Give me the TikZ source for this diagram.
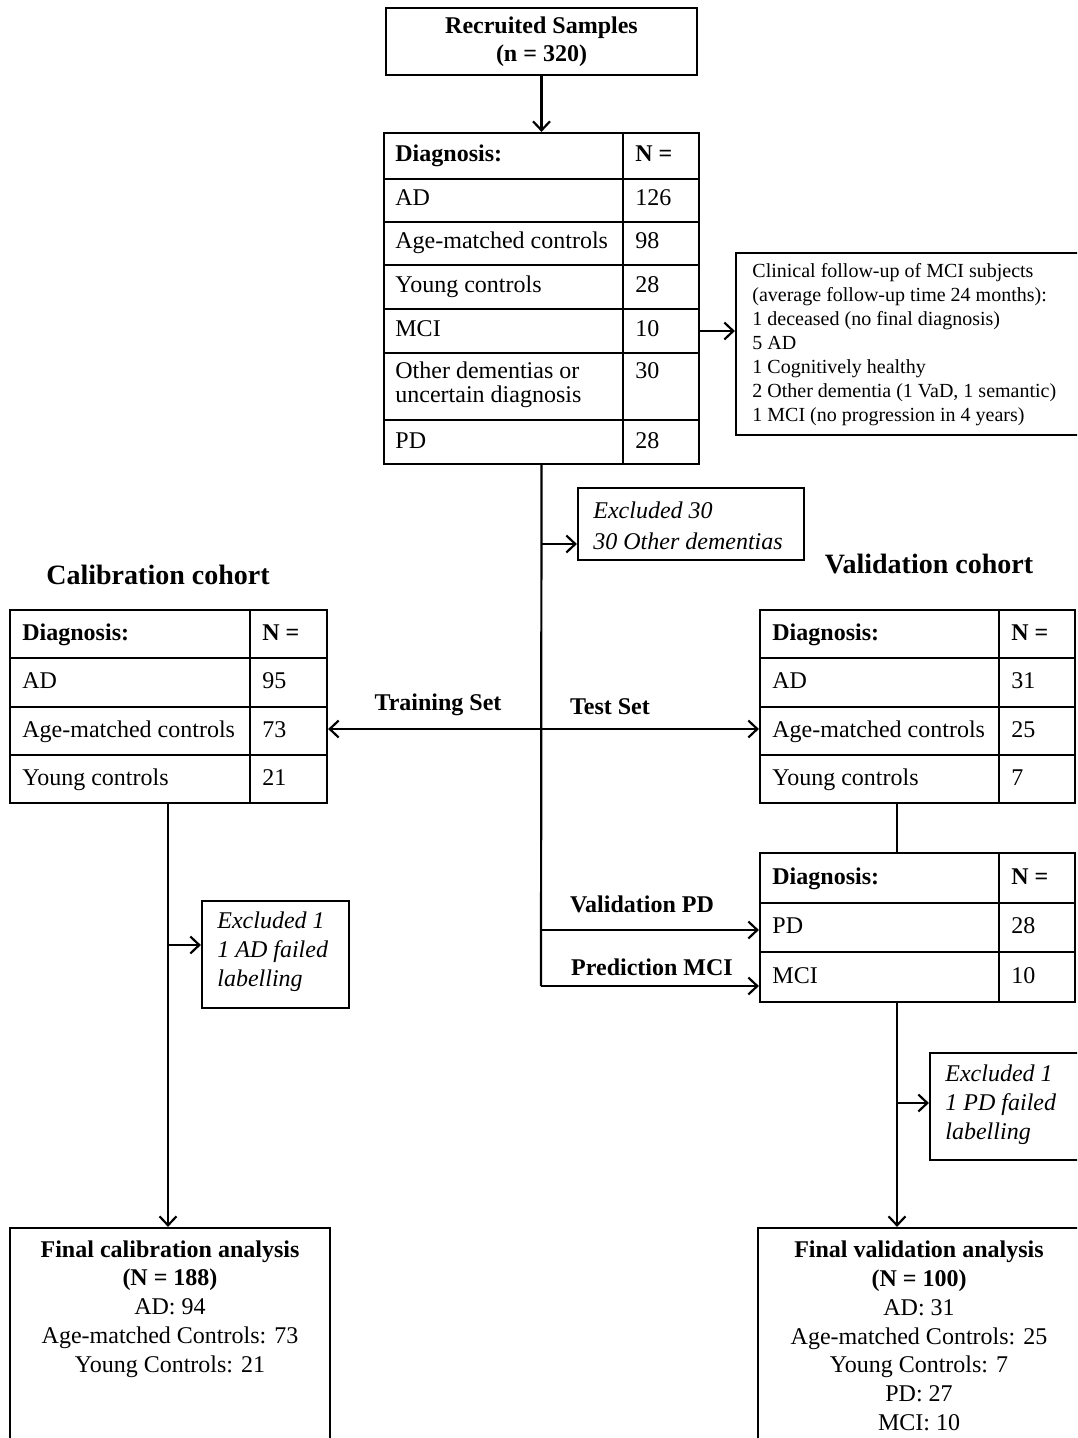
\documentclass[tikz,border=0pt]{standalone}
\usepackage{fontspec}
\setmainfont{Liberation Serif}
\usetikzlibrary{arrows.meta,fit}
\begin{document}
\begin{tikzpicture}[x=0.5pt,y=-0.5pt,
  box/.style={draw, line width=1.1pt, inner sep=0pt},
  ln/.style={line width=1.1pt},
  arr/.style={line width=1.1pt, -{Straight Barb[length=4.5pt,width=8.5pt,line width=1.1pt]}},
  cell/.style={anchor=west, inner sep=0pt, text height=8.5pt, text depth=2.5pt, font=\fontsize{12}{12}\selectfont},
  hcell/.style={cell, font=\fontsize{12}{12}\selectfont\bfseries},
  lbl/.style={inner sep=0pt, font=\fontsize{12}{14}\selectfont\bfseries},
  head/.style={inner sep=0pt, font=\fontsize{14}{16}\selectfont\bfseries},
  excl/.style={anchor=west, inner sep=0pt, align=left},
  fin/.style={inner sep=0pt, align=center, font=\fontsize{12}{14.4}\selectfont}]
\useasboundingbox (0,0) rectangle (1077,1438);
\clip (0,0) rectangle (1077,1438);

% Recruited samples
\node[box, fit={(386,8) (697,75)}] (rec) {};
\node[lbl, align=center] (rect) at (rec.center) {Recruited Samples\\(n = 320)};

% top table
\node[box, fit={(384,133) (699,464)}] (t1) {};
\draw[ln] (623,133) -- (623,464);
\foreach \yy in {179,222,265,309,353,420} \draw[ln] (384,\yy) -- (699,\yy);
\node[hcell] (t1a) at (395,156) {Diagnosis:};
\node[hcell] (t1b) at (635,156) {N =};
\node[cell] (t1c) at (395,200) {AD};
\node[cell] (t1d) at (635,200) {126};
\node[cell] (t1e) at (395,243) {Age-matched controls};
\node[cell] (t1f) at (635,243) {98};
\node[cell] (t1g) at (395,287) {Young controls};
\node[cell] (t1h) at (635,287) {28};
\node[cell] (t1i) at (395,331) {MCI};
\node[cell] (t1j) at (635,331) {10};
\node[anchor=west, inner sep=0pt, align=left, font=\fontsize{12}{12}\selectfont] (t1k) at (395,385) {Other dementias or\\uncertain diagnosis};
\node[cell] (t1l) at (635,373) {30};
\node[cell] (t1m) at (395,442) {PD};
\node[cell] (t1n) at (635,442) {28};

\draw[arr] (rec.south) -- (t1.north);

% MCI follow-up
\node[box, fit={(736,253) (1095,435)}] (fu) {};
\node[excl, font=\fontsize{10}{12}\selectfont] (fut) at (752,345) {Clinical follow-up of MCI subjects\\(average follow-up time 24 months):\\1 deceased (no final diagnosis)\\5 AD\\1 Cognitively healthy\\2 Other dementia (1 VaD, 1 semantic)\\1 MCI (no progression in 4 years)};
\coordinate (mciR) at (699,331);
\draw[arr] (mciR) -- (mciR -| fu.west);

% excluded 30
\node[box, fit={(578,488) (804,560)}] (ex30) {};
\node[excl, font=\fontsize{12}{15.5}\selectfont\itshape] (ex30t) at (593,525.5) {Excluded 30\\30 Other dementias};

% trunk
\coordinate (tEnd) at (541,986);
\coordinate (j30) at (541,544);
\coordinate (jTT) at (541,729);
\coordinate (jPD) at (541,930);
\draw[ln] (t1.south) -- (tEnd);
\draw[arr] (j30) -- (j30 -| ex30.west);

% headings
\node[head] (calh) at (158,575) {Calibration cohort};
\node[head] (valh) at (929,564) {Validation cohort};

% calibration table
\node[box, fit={(10,610) (327,803)}] (ct) {};
\draw[ln] (250,610) -- (250,803);
\foreach \yy in {658,707,755} \draw[ln] (10,\yy) -- (327,\yy);
\node[hcell] (cta) at (22,634) {Diagnosis:};
\node[hcell] (ctb) at (262,634) {N =};
\node[cell] (ctc) at (22,682) {AD};
\node[cell] (ctd) at (262,682) {95};
\node[cell] (cte) at (22,731) {Age-matched controls};
\node[cell] (ctf) at (262,731) {73};
\node[cell] (ctg) at (22,779) {Young controls};
\node[cell] (cth) at (262,779) {21};

% validation table
\node[box, fit={(760,610) (1075,803)}] (vt) {};
\draw[ln] (999,610) -- (999,803);
\foreach \yy in {658,707,755} \draw[ln] (760,\yy) -- (1075,\yy);
\node[hcell] (vta) at (772,634) {Diagnosis:};
\node[hcell] (vtb) at (1011,634) {N =};
\node[cell] (vtc) at (772,682) {AD};
\node[cell] (vtd) at (1011,682) {31};
\node[cell] (vte) at (772,731) {Age-matched controls};
\node[cell] (vtf) at (1011,731) {25};
\node[cell] (vtg) at (772,779) {Young controls};
\node[cell] (vth) at (1011,779) {7};

% training / test
\draw[arr] (jTT) -- (jTT -| ct.east);
\draw[arr] (jTT) -- (jTT -| vt.west);
\node[lbl] (train) at (438,705) {Training Set};
\node[lbl] (test) at (610,707) {Test Set};

% PD/MCI table
\node[box, fit={(760,853) (1075,1002)}] (vt2) {};
\draw[ln] (999,853) -- (999,1002);
\foreach \yy in {903,952} \draw[ln] (760,\yy) -- (1075,\yy);
\node[hcell] (v2a) at (772,878) {Diagnosis:};
\node[hcell] (v2b) at (1011,878) {N =};
\node[cell] (v2c) at (772,927) {PD};
\node[cell] (v2d) at (1011,927) {28};
\node[cell] (v2e) at (772,977) {MCI};
\node[cell] (v2f) at (1011,977) {10};

\coordinate (vc) at (897,803);
\draw[ln] (vc) -- (vc |- vt2.north);

\draw[arr] (jPD) -- (jPD -| vt2.west);
\draw[arr] (tEnd) -- (tEnd -| vt2.west);
\node[lbl] (valpd) at (642,904) {Validation PD};
\node[lbl] (predmci) at (652,967) {Prediction MCI};

% calibration branch
\node[box, fit={(202,901) (349,1008)}] (exA) {};
\node[excl, font=\fontsize{12}{14.5}\selectfont\itshape] (exAt) at (217,952) {Excluded 1\\1 AD failed\\labelling};
\node[box, fit={(10,1228) (330,1460)}] (fc) {};
\node[fin] (fct) at (170,1309) {\textbf{Final calibration analysis}\\\textbf{(N = 188)}\\AD: 94\\Age-matched Controls: 73\\Young Controls: 21};
\coordinate (cc) at (168,803);
\coordinate (jA) at (168,945);
\draw[arr] (cc) -- (cc |- fc.north);
\draw[arr] (jA) -- (jA -| exA.west);

% validation branch
\node[box, fit={(930,1053) (1095,1160)}] (exP) {};
\node[excl, font=\fontsize{12}{14.5}\selectfont\itshape] (exPt) at (945,1105) {Excluded 1\\1 PD failed\\labelling};
\node[box, fit={(758,1228) (1095,1460)}] (fv) {};
\node[fin] (fvt) at (919,1336) {\textbf{Final validation analysis}\\\textbf{(N = 100)}\\AD: 31\\Age-matched Controls: 25\\Young Controls: 7\\PD: 27\\MCI: 10};
\coordinate (vc2) at (897,1002);
\coordinate (jP) at (897,1103);
\draw[arr] (vc2) -- (vc2 |- fv.north);
\draw[arr] (jP) -- (jP -| exP.west);
\end{tikzpicture}
\end{document}
